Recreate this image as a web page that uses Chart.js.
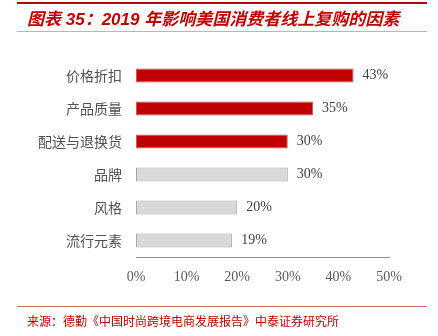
<!DOCTYPE html>
<html>
<head>
<meta charset="utf-8">
<script src="https://cdn.jsdelivr.net/npm/chart.js@4/dist/chart.umd.min.js"></script>
<style>
  body { margin: 0; background: #fff; }
  #wrap { position: relative; width: 438px; height: 336px; }
  #canvas { position: absolute; left: 0; top: 0; }
  .rule { position: absolute; left: 17px; width: 410px; }
  #title {
    position: absolute; left: 27px; top: 5px;
    font: italic bold 17px "Liberation Sans", "Noto Sans CJK SC", sans-serif;
    color: #C00000; white-space: nowrap;
  }
  #source {
    position: absolute; left: 27px; top: 312px;
    font: 12px "Noto Sans CJK SC", sans-serif;
    color: #C00000; white-space: nowrap;
  }
</style>
</head>
<body>
<div id="wrap">
  <canvas id="canvas" width="438" height="336"></canvas>
  <div class="rule" style="top:2px;height:2px;background:#C00000"></div>
  <div id="title">图表 35：2019 年影响美国消费者线上复购的因素</div>
  <div class="rule" style="top:31px;height:1px;background:#E6A3A3"></div>
  <div class="rule" style="top:306px;height:1px;background:#D96B6B"></div>
  <div id="source">来源：德勤《中国时尚跨境电商发展报告》中泰证券研究所</div>
</div>
<script>
var categories = ['价格折扣', '产品质量', '配送与退换货', '品牌', '风格', '流行元素'];
var values = [43, 35, 30, 30, 20, 19];
var highlighted = [true, true, true, false, false, false];
var tickLabels = ['0%', '10%', '20%', '30%', '40%', '50%'];

var valueLabels = {
    id: 'valueLabels',
    afterDatasetsDraw: function (chart) {
        var ctx = chart.ctx;
        var meta = chart.getDatasetMeta(0);
        ctx.save();
        ctx.font = '14px "Liberation Serif", "DejaVu Serif", serif';
        ctx.fillStyle = '#404040';
        ctx.textAlign = 'left';
        ctx.textBaseline = 'middle';
        meta.data.forEach(function (bar, i) {
            ctx.fillText(values[i] + '%', bar.x + 9, bar.y);
        });
        ctx.restore();
    }
};

var config = {
    type: 'bar',
    data: {
        labels: categories,
        datasets: [{
            data: values,
            backgroundColor: highlighted.map(function (h) { return h ? '#C00000' : '#D9D9D9'; }),
            borderColor: highlighted.map(function (h) { return h ? '#C65A5A' : '#A6A6A6'; }),
            borderWidth: 1,
            borderSkipped: false,
            barPercentage: 0.42,
            categoryPercentage: 1
        }]
    },
    options: {
        indexAxis: 'y',
        responsive: false,
        animation: false,
        layout: { padding: { top: 59, right: 49, left: 0, bottom: 0 } },
        plugins: {
            legend: { display: false },
            tooltip: { enabled: false }
        },
        scales: {
            x: {
                min: 0,
                max: 50,
                afterFit: function (scale) { scale.height = 79; },
                grid: { display: false, drawTicks: false },
                border: { display: true, color: '#8C8C8C', width: 1 },
                ticks: {
                    stepSize: 10,
                    padding: 12,
                    color: '#595959',
                    font: { family: '"Liberation Serif", "DejaVu Serif", serif', size: 14 },
                    callback: function (v, i) { return tickLabels[i]; }
                }
            },
            y: {
                afterFit: function (scale) { scale.width = 136; },
                grid: { display: false, drawTicks: false },
                border: { display: false },
                ticks: {
                    padding: 14,
                    color: '#505050',
                    font: { family: '"Noto Sans CJK SC", sans-serif', size: 14 }
                }
            }
        }
    },
    plugins: [valueLabels]
};

window.onload = function () {
    window.myBar = new Chart(document.getElementById('canvas'), config);
};
</script>
</body>
</html>
